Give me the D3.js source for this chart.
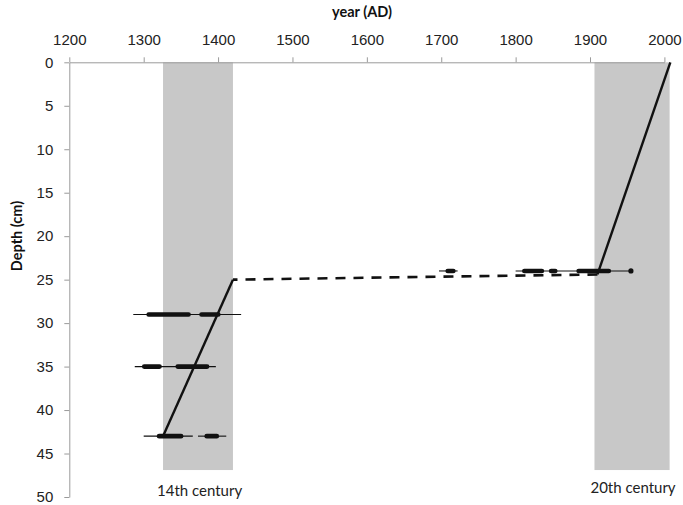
<!DOCTYPE html>
<html>
<head>
<meta charset="utf-8">
<script src="https://cdn.jsdelivr.net/npm/d3@7"></script>
<style>
  html, body { margin: 0; padding: 0; background: #fff; }
  svg { display: block; font-family: Lato, "Open Sans", sans-serif; }
</style>
</head>
<body>
<svg id="chart" width="683" height="505"></svg>
<script>
// ---- data ----
const yearTicks = [1200, 1300, 1400, 1500, 1600, 1700, 1800, 1900, 2000];
const depthTicks = [0, 5, 10, 15, 20, 25, 30, 35, 40, 45, 50];
const bandStarts = [1326, 1906];
const bandEnds = [1420, 2007];
const bandLabels = ["14th century", "20th century"];
const bandDepthEnd = 46.9;
const sampleDepths = [24, 29, 35, 43];
const thinRanges = [
  [[1697, 1722], [1800, 1955]],
  [[1286, 1431]],
  [[1288, 1397]],
  [[1300, 1366], [1373, 1411]]
];
const thickRanges = [
  [[1706, 1719], [1809, 1838], [1845, 1856], [1882, 1928]],
  [[1304, 1363], [1375, 1403]],
  [[1298, 1324], [1343, 1388]],
  [[1318, 1353], [1382, 1401]]
];
const dotYears = [1955];
const dotDepths = [24];
const modelUpperYears = [2008, 1910];
const modelUpperDepths = [0, 24.4];
const hiatusYears = [1910, 1420];
const hiatusDepths = [24.4, 25];
const modelLowerYears = [1420, 1326];
const modelLowerDepths = [25, 43];

// ---- layout ----
const svg = d3.select("#chart");
const x = d3.scaleLinear().domain([1200, 2000]).range([69.3, 664.4]);
const y = d3.scaleLinear().domain([0, 50]).range([62.3, 497]);
const axisColor = "#9a9a9a";
const textColor = "#222";

// bands
svg.append("g").selectAll("rect").data(bandStarts).join("rect")
  .attr("x", (d) => x(d))
  .attr("y", y(0))
  .attr("width", (d, i) => x(bandEnds[i]) - x(d))
  .attr("height", y(bandDepthEnd) - y(0))
  .attr("fill", "#c8c8c8");

// axes
const xAxis = d3.axisTop(x).tickValues(yearTicks).tickFormat(d3.format("d")).tickSize(5).tickSizeOuter(0);
const gx = svg.append("g").attr("transform", `translate(0,${y(0)})`).call(xAxis);
gx.select(".domain").attr("stroke", axisColor);
gx.selectAll(".tick line").attr("stroke", axisColor);
gx.selectAll(".tick text").attr("fill", textColor).attr("font-size", 15).attr("dy", "0").attr("y", -17);

const yAxis = d3.axisLeft(y).tickValues(depthTicks).tickSize(5).tickSizeOuter(0);
const gy = svg.append("g").attr("transform", `translate(${x(1200)},0)`).call(yAxis);
gy.select(".domain").attr("stroke", axisColor);
gy.selectAll(".tick line").attr("stroke", axisColor);
gy.selectAll(".tick text").attr("fill", textColor).attr("font-size", 15).attr("x", -16);

// axis titles
svg.append("text").attr("x", 362).attr("y", 17).attr("text-anchor", "middle")
  .attr("font-size", 14.5).attr("font-weight", "bold").attr("fill", "#111").text("year (AD)");
svg.append("text").attr("transform", `translate(22,236) rotate(-90)`).attr("text-anchor", "middle")
  .attr("font-size", 14.5).attr("font-weight", "bold").attr("fill", "#111").text("Depth (cm)");

// band labels
svg.append("g").selectAll("text").data(bandLabels).join("text")
  .attr("x", (d, i) => i === 0 ? x(bandStarts[i]) - 6 : x(bandStarts[i]) - 4)
  .attr("y", (d, i) => i === 0 ? 496 : 493)
  .attr("font-size", 15).attr("fill", textColor).text((d) => d);

// age model lines
const line = d3.line().x((d) => x(d[0])).y((d) => y(d[1]));
svg.append("path").datum(modelUpperYears.map((v, i) => [v, modelUpperDepths[i]]))
  .attr("d", line).attr("stroke", "#111").attr("stroke-width", 2.4).attr("fill", "none");
svg.append("path").datum(hiatusYears.map((v, i) => [v, hiatusDepths[i]]))
  .attr("d", line).attr("stroke", "#111").attr("stroke-width", 2.6).attr("fill", "none")
  .attr("stroke-dasharray", "10,8");
svg.append("path").datum(modelLowerYears.map((v, i) => [v, modelLowerDepths[i]]))
  .attr("d", line).attr("stroke", "#111").attr("stroke-width", 2.4).attr("fill", "none");

// calibrated ranges
const gs = svg.append("g");
sampleDepths.forEach((dep, i) => {
  gs.selectAll(null).data(thinRanges[i]).join("line")
    .attr("x1", (d) => x(d[0])).attr("x2", (d) => x(d[1]))
    .attr("y1", y(dep)).attr("y2", y(dep))
    .attr("stroke", "#111").attr("stroke-width", 1.1);
  gs.selectAll(null).data(thickRanges[i]).join("line")
    .attr("x1", (d) => x(d[0]) + 2).attr("x2", (d) => x(d[1]) - 2)
    .attr("y1", y(dep)).attr("y2", y(dep))
    .attr("stroke", "#111").attr("stroke-width", 4.6).attr("stroke-linecap", "round");
});
gs.selectAll("circle").data(dotYears).join("circle")
  .attr("cx", (d) => x(d)).attr("cy", (d, i) => y(dotDepths[i])).attr("r", 2.6).attr("fill", "#111");
</script>
</body>
</html>
